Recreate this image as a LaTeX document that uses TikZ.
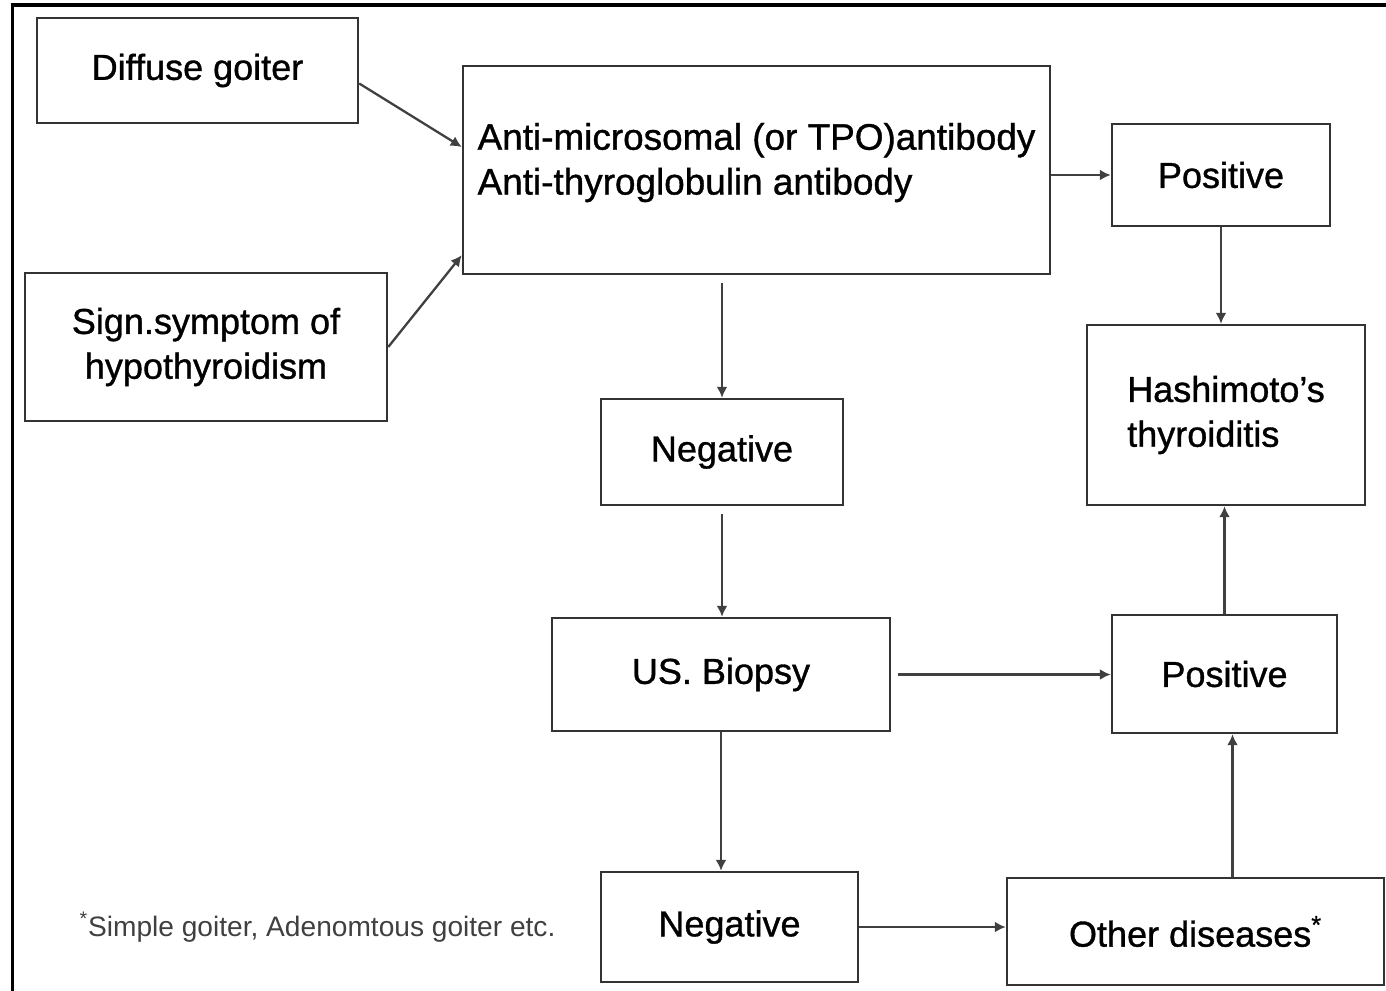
\documentclass[tikz,border=0pt]{standalone}
\usepackage{fontspec}
\setmainfont{Liberation Sans}
\usetikzlibrary{arrows.meta,positioning,calc}

\tikzset{
	box/.style={rectangle,draw=black!80,line width=1.4pt,inner sep=0pt,align=center,font=\fontsize{20.5}{25.5}\selectfont\addfontfeature{FakeBold=1}},
	arr/.style={draw=black!75,line width=1.3pt,-{Latex[length=2.2mm,width=2.2mm]}}
}

\begin{document}
\begin{tikzpicture}
	\useasboundingbox (0,0) rectangle (27.72,-19.8);
	\draw[line width=2.2pt] (0.25,-19.9) |- (27.8,-0.1);

	\node[box,minimum width=6.42cm,minimum height=2.1cm] (goiter) at (3.95,-1.41) {Diffuse goiter};
	\node[box,minimum width=7.24cm,minimum height=2.96cm] (sign) at (4.12,-6.94) {Sign.symptom of\\hypothyroidism};
	\node[box,align=left,minimum width=11.74cm,minimum height=4.16cm,text depth=0.45cm,font=\fontsize{21}{25.5}\selectfont\addfontfeature{FakeBold=1}] (anti) at (15.13,-3.4) {Anti-microsomal (or TPO)antibody\\Anti-thyroglobulin antibody};
	\node[box,minimum width=4.36cm,minimum height=2.04cm] (pos1) at (24.42,-3.5) {Positive};
	\node[box,align=left,minimum width=5.56cm,minimum height=3.6cm] (hashi) at (24.52,-8.3) {Hashimoto's\\thyroiditis};
	\node[box,minimum width=4.84cm,minimum height=2.12cm] (neg1) at (14.44,-9.04) {Negative};
	\node[box,minimum width=6.76cm,minimum height=2.26cm] (us) at (14.42,-13.49) {US. Biopsy};
	\node[box,minimum width=4.5cm,minimum height=2.36cm] (pos2) at (24.49,-13.48) {Positive};
	\node[box,minimum width=5.14cm,minimum height=2.2cm] (neg2) at (14.59,-18.54) {Negative};
	\node[box,minimum width=7.54cm,minimum height=2.14cm] (other) at (23.91,-18.63) {Other diseases\textsuperscript{*}};
	\node[text=black!75,font=\fontsize{16}{19}\selectfont] (note) at (6.35,-18.54) {\textsuperscript{*}Simple goiter, Adenomtous goiter etc.};

	\draw[arr] ([yshift=-0.26cm]goiter.east) -- ([yshift=0.46cm]anti.west);
	\draw[arr] (sign.east) -- ([yshift=0.4cm]anti.south west);
	\draw[arr] (anti.east |- pos1.west) -- (pos1.west);
	\draw[arr] (pos1.south) -- (pos1.south |- hashi.north);
	\draw[arr] ([yshift=-0.16cm]neg1.north |- anti.south) -- (neg1.north);
	\draw[arr] ([yshift=-0.15cm]neg1.south) -- (neg1.south |- us.north);
	\draw[arr] ([xshift=0.14cm]us.east) -- (pos2.west |- us.east);
	\draw[arr] (pos2.north) -- (pos2.north |- hashi.south);
	\draw[arr] (us.south) -- (us.south |- neg2.north);
	\draw[arr] (neg2.east) -- (other.west |- neg2.east);
	\draw[arr] ([xshift=0.16cm]pos2.south |- other.north) -- ([xshift=0.16cm]pos2.south);
\end{tikzpicture}
\end{document}
